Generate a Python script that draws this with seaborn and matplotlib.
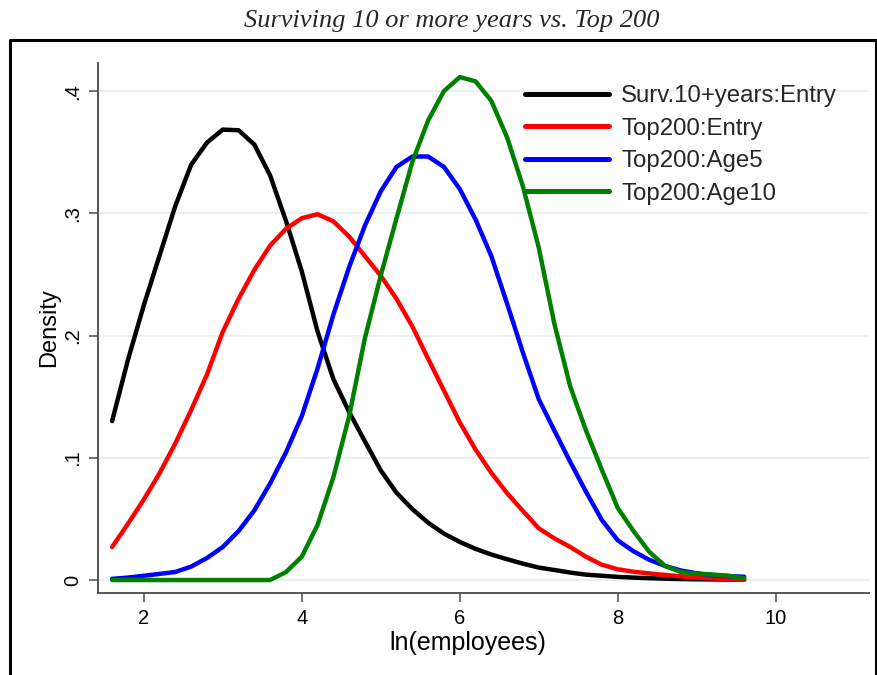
import numpy as np
import pandas as pd
import matplotlib
matplotlib.use("Agg")
import matplotlib.pyplot as plt
from matplotlib.lines import Line2D
import seaborn as sns

# Kernel density estimates of ln(employees), evaluated on a common grid
grid = [1.6, 1.8, 2.0, 2.2, 2.4, 2.6, 2.8, 3.0, 3.2, 3.4, 3.6, 3.8, 4.0, 4.2,
        4.4, 4.6, 4.8, 5.0, 5.2, 5.4, 5.6, 5.8, 6.0, 6.2, 6.4, 6.6, 6.8, 7.0,
        7.2, 7.4, 7.6, 7.8, 8.0, 8.2, 8.4, 8.6, 8.8, 9.0, 9.2, 9.4, 9.6]

surv10_entry = [0.130, 0.180, 0.2245, 0.2654, 0.306, 0.3397, 0.3578, 0.3685,
                0.3680, 0.3563, 0.331, 0.294, 0.2527, 0.2035, 0.1645, 0.1375,
                0.1134, 0.0897, 0.0714, 0.058, 0.0469, 0.038, 0.0312, 0.0255,
                0.0209, 0.017, 0.0134, 0.0102, 0.0082, 0.0061, 0.0044, 0.0035,
                0.0026, 0.002, 0.0015, 0.0011, 0.0008, 0.0006, 0.0005, 0.0004,
                0.0003]

top200_entry = [0.027, 0.046, 0.0657, 0.0873, 0.1118, 0.139, 0.168, 0.203,
                0.230, 0.2537, 0.2736, 0.2873, 0.296, 0.2993, 0.2935, 0.281,
                0.265, 0.249, 0.230, 0.2075, 0.181, 0.155, 0.129, 0.1068,
                0.0877, 0.071, 0.0565, 0.0423, 0.034, 0.027, 0.019, 0.0125,
                0.0088, 0.0068, 0.0054, 0.0042, 0.003, 0.0021, 0.0013, 0.0007,
                0.0002]

top200_age5 = [0.001, 0.002, 0.0035, 0.005, 0.0066, 0.011, 0.018, 0.027,
               0.040, 0.057, 0.079, 0.1043, 0.134, 0.173, 0.217, 0.256,
               0.290, 0.318, 0.338, 0.3465, 0.3465, 0.338, 0.320, 0.295,
               0.265, 0.226, 0.186, 0.148, 0.122, 0.0965, 0.072, 0.049,
               0.0325, 0.0235, 0.0165, 0.0115, 0.0078, 0.0055, 0.004, 0.0032,
               0.0027]

top200_age10 = [0.0, 0.0, 0.0, 0.0, 0.0, 0.0, 0.0, 0.0, 0.0, 0.0, 0.0, 0.0065,
                0.019, 0.045, 0.084, 0.134, 0.198, 0.249, 0.296, 0.342, 0.376,
                0.400, 0.4115, 0.408, 0.392, 0.362, 0.322, 0.272, 0.209, 0.158,
                0.122, 0.090, 0.059, 0.040, 0.023, 0.0115, 0.0065, 0.0052,
                0.0045, 0.0035, 0.0015]

series_names = ["Surv.10+years:Entry", "Top200:Entry", "Top200:Age5", "Top200:Age10"]
series_colors = ["#000000", "#ff0000", "#0000ff", "#008000"]
x_ticks = [2, 4, 6, 8, 10]
x_tick_labels = ["2", "4", "6", "8", "10"]
y_ticks = [0, 0.1, 0.2, 0.3, 0.4]
y_tick_labels = ["0", ".1", ".2", ".3", ".4"]

values = [surv10_entry, top200_entry, top200_age5, top200_age10]
df = pd.concat(
    [pd.DataFrame({"lnemp": grid, "density": v, "series": name})
     for name, v in zip(series_names, values)],
    ignore_index=True,
)

sns.set_theme(style="white")
plt.rcParams["font.family"] = ["Liberation Sans", "DejaVu Sans"]

W, H = 878, 675
fig = plt.figure(figsize=(W / 100, H / 100), dpi=100)
fig.patch.set_facecolor("white")

# plot region in pixel terms
left_px, right_px, top_px, bottom_px = 98, 869, 63, 593
ax = fig.add_axes([left_px / W, 1 - bottom_px / H,
                   (right_px - left_px) / W, (bottom_px - top_px) / H])

sns.lineplot(data=df, x="lnemp", y="density", hue="series",
             hue_order=series_names, palette=series_colors,
             linewidth=3.2, ax=ax, legend=False, sort=False,
             solid_capstyle="round", solid_joinstyle="round")

ax.set_xlim(1.4215, 11.18)
ax.set_ylim(-0.0106, 0.423)

ax.set_yticks(y_ticks)
ax.set_yticklabels(y_tick_labels, rotation=90, va="center")
ax.set_xticks(x_ticks)
ax.set_xticklabels(x_tick_labels)

for y in y_ticks:
    ax.axhline(y, color="#e9f0f2", lw=1.6, zorder=0)

for side in ["top", "right"]:
    ax.spines[side].set_visible(False)
for side in ["left", "bottom"]:
    ax.spines[side].set_color("#4a4a4a")
    ax.spines[side].set_linewidth(1.3)

ax.tick_params(axis="both", which="major", direction="out", length=6.5,
               width=1.1, color="#4a4a4a", labelsize=14.5, labelcolor="#000000",
               pad=5, left=True, bottom=True)

ax.set_xlabel("ln(employees)", fontsize=18, color="black")
ax.xaxis.set_label_coords((468 - left_px) / (right_px - left_px),
                          (bottom_px - 631) / (bottom_px - top_px))
ax.set_ylabel("Density", fontsize=17, labelpad=2, color="black")

handles = [Line2D([0], [0], color=c, lw=3.6, solid_capstyle="round")
           for c in series_colors]
leg = ax.legend(handles, series_names, loc="upper left",
                bbox_to_anchor=((525 - left_px) / (right_px - left_px),
                                1 - (85 - top_px) / (bottom_px - top_px)),
                frameon=False, fontsize=17.3, handlelength=3.5,
                handletextpad=0.5, labelspacing=0.44, borderpad=0,
                borderaxespad=0)

fig.text(452 / W, 1 - 21 / H, "Surviving 10 or more years vs. Top 200",
         ha="center", va="center", fontsize=19, style="italic",
         family="Liberation Serif")

# outer frame around the graph region
fx0, fx1, fy = 10 / W, 876 / W, 1 - 40 / H
fig.add_artist(Line2D([fx0, fx0, fx1, fx1], [0, fy, fy, 0],
                      transform=fig.transFigure, color="black", lw=2.2))

fig.savefig("out.png", dpi=100)
